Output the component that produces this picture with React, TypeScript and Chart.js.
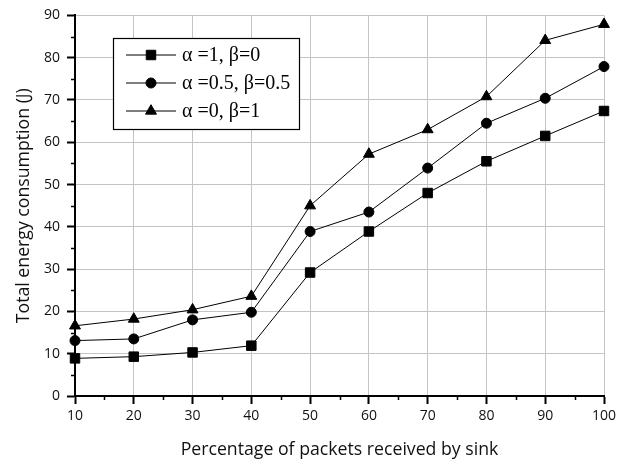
import React, { useEffect, useRef } from 'react';
import { Chart, registerables } from 'chart.js';
import { drawPoint } from 'chart.js/helpers';

Chart.register(...registerables);

const categories = [10, 20, 30, 40, 50, 60, 70, 80, 90, 100];
const seriesLabels = ['α =1, β=0', 'α =0.5, β=0.5', 'α =0, β=1'];
const seriesA = [8.9, 9.3, 10.3, 11.9, 29.2, 38.9, 48.0, 55.5, 61.5, 67.4];
const seriesB = [13.1, 13.5, 18.0, 19.8, 38.9, 43.5, 53.9, 64.5, 70.4, 77.9];
const seriesC = [16.6, 18.2, 20.4, 23.6, 45.0, 57.2, 63.0, 70.8, 84.1, 87.9];
const xMinorTicks = [15, 25, 35, 45, 55, 65, 75, 85, 95];
const yMinorTicks = [5, 15, 25, 35, 45, 55, 65, 75, 85];
const xTitle = 'Percentage of packets received by sink';
const yTitle = 'Total energy consumption (J)';

const SANS = '"Open Sans", "DejaVu Sans", sans-serif';

const minorTicksPlugin = {
  id: 'minorTicks',
  afterDraw(chart: any) {
    const { ctx, scales } = chart;
    const xs = scales.x;
    const ys = scales.y;
    ctx.save();
    ctx.strokeStyle = '#000';
    ctx.lineWidth = 1.5;
    ctx.beginPath();
    xMinorTicks.forEach((v) => {
      const px = Math.round(xs.getPixelForValue(v)) + 0.5;
      ctx.moveTo(px, xs.top);
      ctx.lineTo(px, xs.top + 4);
    });
    yMinorTicks.forEach((v) => {
      const py = Math.round(ys.getPixelForValue(v)) + 0.5;
      ctx.moveTo(ys.right, py);
      ctx.lineTo(ys.right - 4, py);
    });
    ctx.stroke();
    ctx.restore();
  },
};

const boxLegendPlugin = {
  id: 'boxLegend',
  afterDatasetsDraw(chart: any) {
    const { ctx } = chart;
    const x0 = 113;
    const y0 = 38;
    const w = 186;
    const h = 91;
    ctx.save();
    ctx.fillStyle = '#fff';
    ctx.fillRect(x0, y0, w, h);
    ctx.strokeStyle = '#000';
    ctx.lineWidth = 1.2;
    ctx.strokeRect(x0 + 0.5, y0 + 0.5, w, h);
    chart.data.datasets.forEach((ds: any, i: number) => {
      const cy = y0 + 17 + i * 28;
      ctx.strokeStyle = '#000';
      ctx.lineWidth = 1;
      ctx.beginPath();
      ctx.moveTo(x0 + 13, cy);
      ctx.lineTo(x0 + 63, cy);
      ctx.stroke();
      ctx.fillStyle = '#000';
      drawPoint(
        ctx,
        { pointStyle: ds.pointStyle, radius: ds.pointRadius, borderWidth: 1, rotation: 0 } as any,
        x0 + 38,
        cy
      );
      ctx.fillStyle = '#000';
      ctx.font = '20px "Liberation Serif", "Times New Roman", serif';
      ctx.textBaseline = 'middle';
      ctx.textAlign = 'left';
      ctx.fillText(ds.label, x0 + 69, cy + 1);
    });
    ctx.restore();
  },
};

export default function App() {
  const ref = useRef<HTMLCanvasElement | null>(null);

  useEffect(() => {
    if (!ref.current) return;
    const mk = (label: string, values: number[], style: string, radius: number) => ({
      label,
      data: categories.map((c, i) => ({ x: c, y: values[i] })),
      borderColor: '#000',
      backgroundColor: '#000',
      borderWidth: 1,
      pointStyle: style,
      pointRadius: radius,
      pointBorderWidth: 1,
      pointBackgroundColor: '#000',
      pointBorderColor: '#000',
      tension: 0,
      clip: false as any,
    });
    const chart = new Chart(ref.current, {
      type: 'line',
      data: {
        datasets: [
          mk(seriesLabels[0], seriesA, 'rect', 6.7),
          mk(seriesLabels[1], seriesB, 'circle', 5),
          mk(seriesLabels[2], seriesC, 'triangle', 6.3),
        ],
      },
      options: {
        responsive: false,
        animation: false,
        layout: { padding: { top: 8, right: 36, left: 0, bottom: 0 } },
        plugins: {
          legend: { display: false },
          tooltip: { enabled: false },
        },
        scales: {
          x: {
            type: 'linear',
            min: 10,
            max: 100,
            ticks: {
              stepSize: 10,
              color: '#111',
              font: { family: SANS, size: 14 },
              padding: 4,
              maxRotation: 0,
            },
            grid: {
              color: '#c4c4c4',
              lineWidth: 1,
              drawTicks: true,
              tickLength: 8,
              tickColor: '#000',
              tickWidth: 2,
            } as any,
            border: { color: '#000', width: 2 },
            title: {
              display: true,
              text: xTitle,
              color: '#111',
              font: { family: SANS, size: 17.7 },
              padding: { top: 0, bottom: 7 },
            },
            afterFit: (s: any) => {
              s.height = 72;
            },
          },
          y: {
            type: 'linear',
            min: 0,
            max: 90,
            ticks: {
              stepSize: 10,
              color: '#111',
              font: { family: SANS, size: 14 },
              padding: 7,
            },
            grid: {
              color: '#c4c4c4',
              lineWidth: 1,
              drawTicks: true,
              tickLength: 8,
              tickColor: '#000',
              tickWidth: 2,
            } as any,
            border: { color: '#000', width: 2 },
            title: {
              display: true,
              text: yTitle,
              color: '#111',
              font: { family: SANS, size: 17.7 },
              padding: { top: 13, bottom: 0 },
            },
            afterFit: (s: any) => {
              s.width = 75;
            },
          },
        },
      },
      plugins: [minorTicksPlugin, boxLegendPlugin],
    });
    return () => chart.destroy();
  }, []);

  return (
    <div style={{ position: 'fixed', left: 0, top: 0, width: 640, height: 468, background: '#fff' }}>
      <canvas ref={ref} width={640} height={468} />
    </div>
  );
}
